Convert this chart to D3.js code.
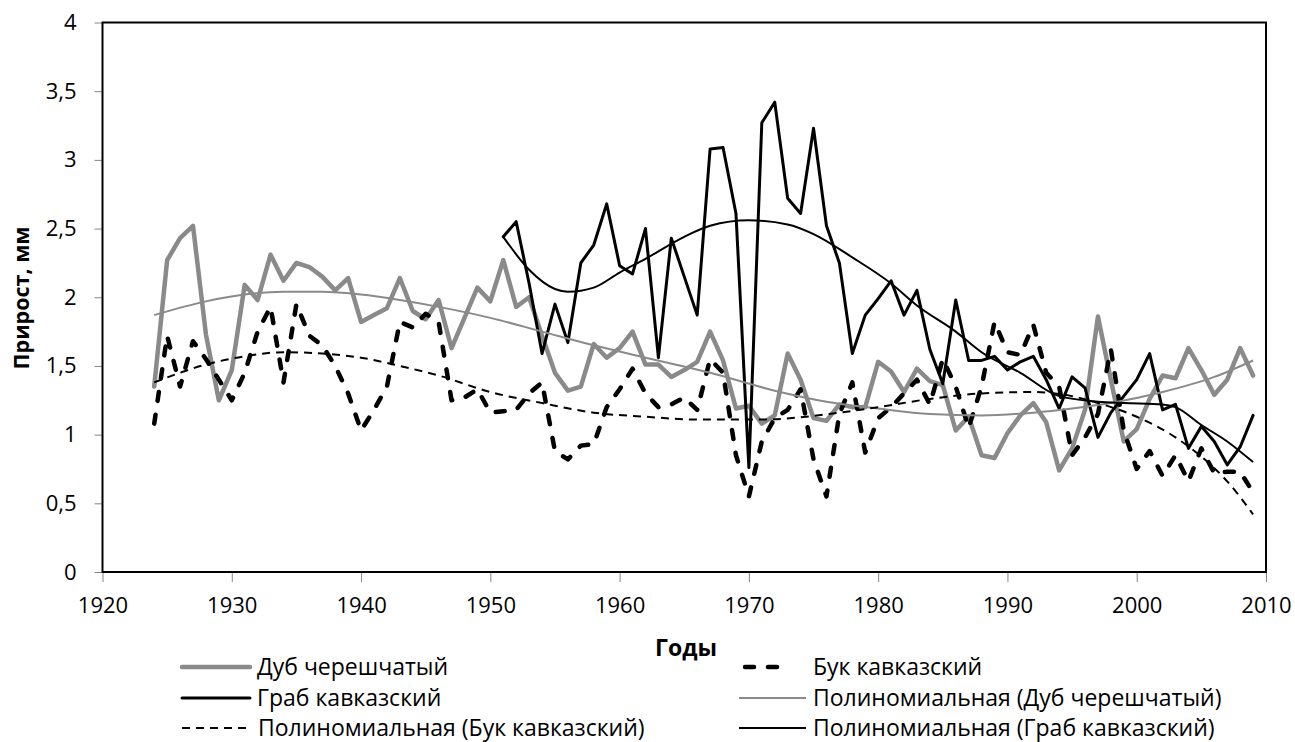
<!DOCTYPE html>
<html><head><meta charset="utf-8">
<script src="https://cdn.jsdelivr.net/npm/d3@7"></script>
<style>
html,body{margin:0;padding:0;background:#fff;}
svg text{font-family:"Open Sans","Noto Sans",sans-serif;fill:#000;}
</style></head>
<body><svg id="chart" width="1295" height="742"></svg>
<script>
// ---- data ----
const dubStart = 1924;
const dub = [1.35,2.27,2.43,2.52,1.73,1.25,1.47,2.09,1.98,2.31,2.12,2.25,2.22,2.15,2.05,2.14,
  1.82,1.87,1.92,2.14,1.90,1.84,1.98,1.63,1.85,2.07,1.97,2.27,1.93,2.00,1.72,1.45,1.32,1.35,1.66,1.56,
  1.63,1.75,1.51,1.51,1.42,1.47,1.53,1.75,1.54,1.19,1.21,1.08,1.14,1.59,1.40,1.12,1.10,1.22,1.20,1.20,
  1.53,1.46,1.31,1.48,1.39,1.36,1.03,1.13,0.85,0.83,1.01,1.14,1.23,1.09,0.74,0.90,1.18,1.86,1.40,0.95,
  1.04,1.26,1.43,1.41,1.63,1.47,1.29,1.40,1.63,1.43];
const bukStart = 1924;
const buk = [1.08,1.72,1.35,1.68,1.55,1.40,1.25,1.45,1.75,1.93,1.38,1.95,1.72,1.65,1.50,1.30,
  1.03,1.18,1.35,1.82,1.78,1.88,1.82,1.25,1.27,1.33,1.16,1.17,1.18,1.30,1.38,0.88,0.82,0.92,0.93,1.20,
  1.33,1.48,1.30,1.20,1.22,1.27,1.18,1.55,1.45,0.85,0.55,0.95,1.12,1.18,1.33,0.82,0.55,1.15,1.38,0.87,
  1.12,1.20,1.30,1.40,1.22,1.55,1.35,1.05,1.35,1.82,1.60,1.58,1.80,1.45,1.35,0.85,0.98,1.15,1.62,1.03,
  0.75,0.88,0.70,0.85,0.66,0.90,0.72,0.73,0.73,0.58];
const grabStart = 1951;
const grab = [2.44,2.55,2.10,1.59,1.95,1.67,2.25,2.38,2.68,2.23,2.17,2.50,1.56,2.43,2.15,1.87,
  3.08,3.09,2.61,0.76,3.27,3.42,2.72,2.61,3.23,2.52,2.25,1.59,1.87,1.99,2.12,1.87,2.05,1.62,1.37,1.98,
  1.54,1.54,1.57,1.47,1.53,1.57,1.40,1.19,1.42,1.34,0.98,1.16,1.28,1.40,1.59,1.18,1.22,0.90,1.06,0.95,
  0.78,0.91,1.14];

// polynomial trend lines
const dubTrendYears = [1924,1928,1931,1934,1937,1940,1943,1946,1950,1954,1958,1962,1967,1972,1976,1980,1984,1988,1992,1995,1998,2002,2006,2009];
const dubTrend      = [1.87,1.97,2.02,2.04,2.04,2.02,1.98,1.93,1.85,1.75,1.65,1.56,1.45,1.32,1.24,1.19,1.15,1.14,1.16,1.19,1.23,1.31,1.42,1.54];
const bukTrendYears = [1924,1928,1931,1934,1937,1940,1943,1946,1950,1954,1958,1962,1966,1971,1977,1980,1984,1988,1992,1995,1997,2000,2003,2005,2007,2009];
const bukTrend      = [1.38,1.51,1.57,1.60,1.59,1.56,1.50,1.43,1.31,1.23,1.16,1.13,1.11,1.11,1.16,1.20,1.26,1.30,1.31,1.28,1.23,1.13,0.98,0.84,0.66,0.42];
const grabTrendYears = [1951,1953,1955,1956,1958,1960,1962,1965,1967,1970,1973,1975,1978,1981,1983,1986,1988,1991,1994,1997,1999,2002,2003,2005,2007,2009];
const grabTrend      = [2.44,2.20,2.06,2.04,2.07,2.18,2.28,2.44,2.52,2.56,2.53,2.46,2.29,2.10,1.94,1.75,1.60,1.45,1.28,1.24,1.23,1.22,1.20,1.07,0.95,0.80];

const xTicks = [1920,1930,1940,1950,1960,1970,1980,1990,2000,2010];
const yTicks = [0,0.5,1,1.5,2,2.5,3,3.5,4];
const xTitle = "Годы";
const yTitle = "Прирост, мм";
const legendLabels = ["Дуб черешчатый","Бук кавказский","Граб кавказский",
  "Полиномиальная (Дуб черешчатый)","Полиномиальная (Бук кавказский)","Полиномиальная (Граб кавказский)"];

// ---- drawing ----
const svg = d3.select("#chart");
const x = d3.scaleLinear().domain([1920,2010]).range([102.5,1266]);
const y = d3.scaleLinear().domain([0,4]).range([572,22.5]);

const GRAY = "#8a8a8a";
const styles = {
  dub:  {stroke:GRAY, width:4.5, dash:null, cap:"round"},
  buk:  {stroke:"#000", width:4.5, dash:"9,14", cap:"round"},
  grab: {stroke:"#000", width:3, dash:null, cap:"round"},
  dubT: {stroke:GRAY, width:2, dash:null, cap:"butt"},
  bukT: {stroke:"#000", width:2, dash:"8,6", cap:"butt"},
  grabT:{stroke:"#000", width:2, dash:null, cap:"butt"}
};

// axes
const yAxis = d3.axisLeft(y).tickValues(yTicks).tickSize(8).tickPadding(18)
  .tickFormat(d => String(d).replace(".", ","));
const xAxis = d3.axisBottom(x).tickValues(xTicks).tickSize(10).tickPadding(15).tickFormat(d3.format("d"));

const gy = svg.append("g").attr("transform","translate(102.5,0)").call(yAxis);
const gx = svg.append("g").attr("transform","translate(0,572)").call(xAxis);
[gx,gy].forEach(g=>{
  g.select(".domain").remove();
  g.selectAll(".tick line").attr("stroke","#868686").attr("stroke-width",1);
  g.selectAll(".tick text").style("font-size","22px").attr("fill","#000");
});

// plot border
svg.append("rect").attr("x",x(1920)).attr("y",y(4))
  .attr("width",x(2010)-x(1920)).attr("height",y(0)-y(4))
  .attr("fill","none").attr("stroke","#000").attr("stroke-width",2);

function seriesPoints(start, vals){ return vals.map((v,i)=>[start+i, v]); }
const lineStraight = d3.line().x(d=>x(d[0])).y(d=>y(d[1]));
const lineSmooth = d3.line().x(d=>x(d[0])).y(d=>y(d[1])).curve(d3.curveMonotoneX);

function drawPath(pts, st, gen){
  const p = svg.append("path").datum(pts).attr("d", gen)
    .attr("fill","none").attr("stroke",st.stroke).attr("stroke-width",st.width)
    .attr("stroke-linejoin","round").attr("stroke-linecap",st.cap);
  if (st.dash) p.attr("stroke-dasharray", st.dash);
}
drawPath(seriesPoints(dubStart,dub), styles.dub, lineStraight);
drawPath(seriesPoints(bukStart,buk), styles.buk, lineStraight);
drawPath(seriesPoints(grabStart,grab), styles.grab, lineStraight);
drawPath(dubTrendYears.map((yr,i)=>[yr,dubTrend[i]]), styles.dubT, lineSmooth);
drawPath(bukTrendYears.map((yr,i)=>[yr,bukTrend[i]]), styles.bukT, lineSmooth);
drawPath(grabTrendYears.map((yr,i)=>[yr,grabTrend[i]]), styles.grabT, lineSmooth);

// axis titles
svg.append("text").attr("x",686).attr("y",656).attr("text-anchor","middle")
  .style("font-size","23px").style("font-weight","700").text(xTitle);
svg.append("text").attr("transform","translate(29,298) rotate(-90)").attr("text-anchor","middle")
  .style("font-size","21.5px").style("font-weight","700").text(yTitle);

// legend
const legendItems = [
  {label:legendLabels[0], st:styles.dub,  x0:182, x1:250, tx:257, cy:667},
  {label:legendLabels[1], st:styles.buk,  x0:745, x1:777, tx:813, cy:667},
  {label:legendLabels[2], st:styles.grab, x0:182, x1:250, tx:257, cy:698},
  {label:legendLabels[3], st:styles.dubT, x0:739, x1:806, tx:813, cy:698},
  {label:legendLabels[4], st:styles.bukT, x0:182, x1:248, tx:258, cy:728},
  {label:legendLabels[5], st:styles.grabT,x0:739, x1:806, tx:813, cy:728}
];
const lg = svg.append("g");
legendItems.forEach(it=>{
  const l = lg.append("line").attr("x1",it.x0).attr("x2",it.x1).attr("y1",it.cy).attr("y2",it.cy)
    .attr("stroke",it.st.stroke).attr("stroke-width",it.st.width).attr("stroke-linecap",it.st.cap);
  if (it.st.dash) l.attr("stroke-dasharray", it.st.dash);
  lg.append("text").attr("x",it.tx).attr("y",it.cy).attr("dy","0.35em")
    .style("font-size","23px").text(it.label);
});
</script>
</body></html>
